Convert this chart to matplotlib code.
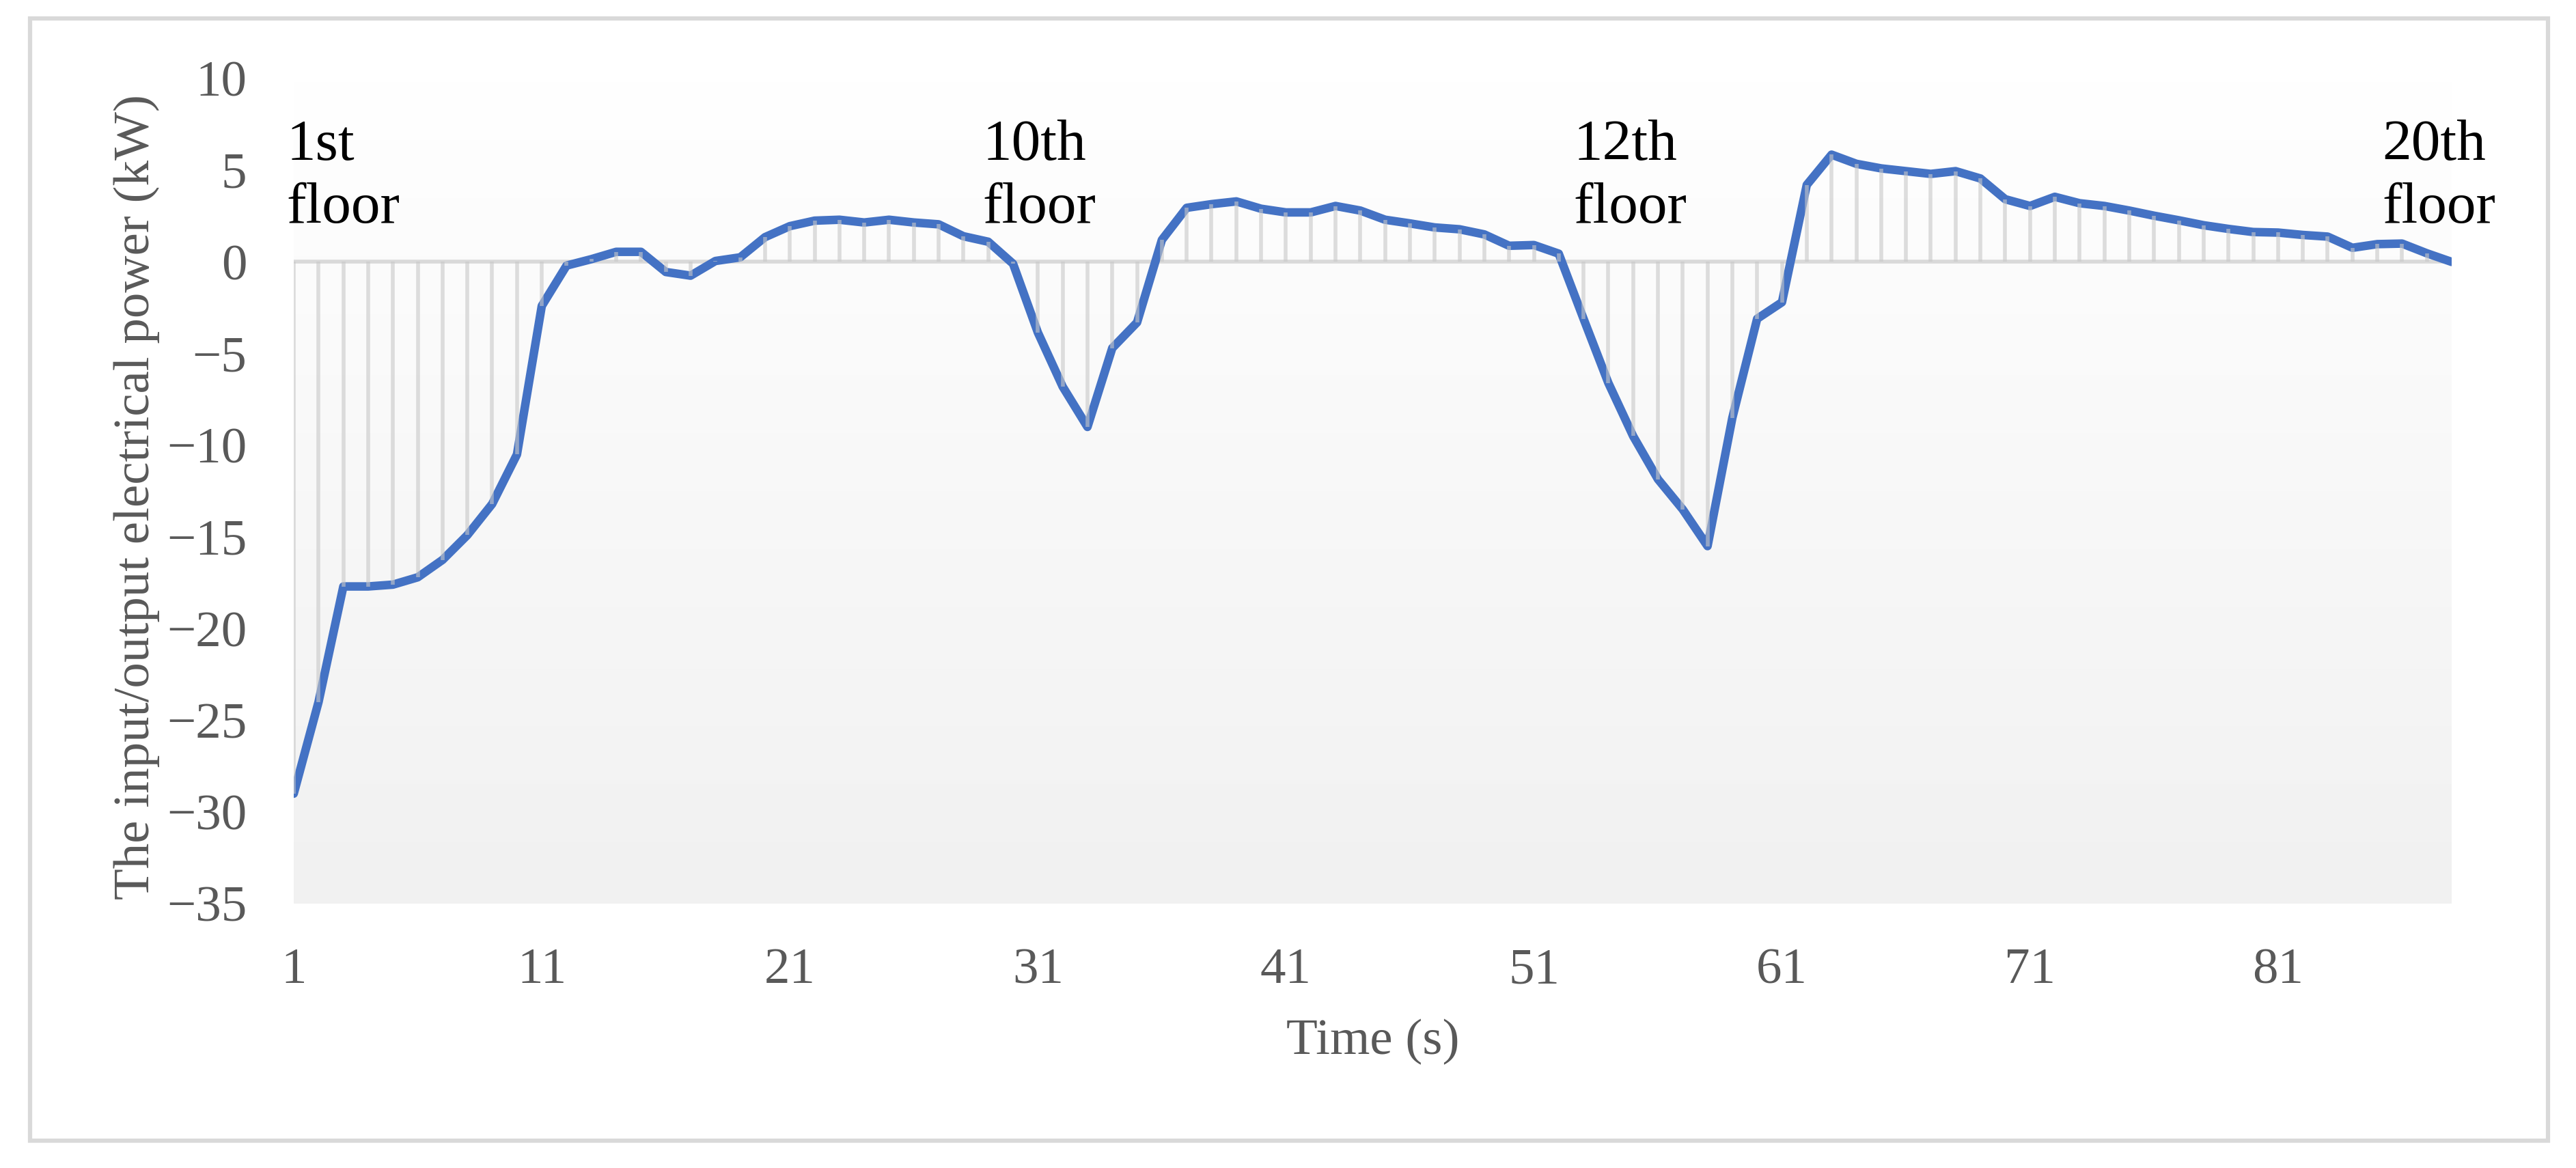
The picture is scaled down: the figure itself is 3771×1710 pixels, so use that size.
import numpy as np
import matplotlib

matplotlib.use("Agg")
import matplotlib.pyplot as plt  # noqa: E402
from matplotlib.colors import LinearSegmentedColormap  # noqa: E402
from matplotlib.patches import Rectangle  # noqa: E402

# ── data ──────────────────────────────────────────────────────────────
seconds = list(range(1, 89))
power_kw = [
    -29.0, -24.0, -17.7, -17.7, -17.6, -17.2, -16.25, -14.9, -13.2, -10.5,
    -2.4, -0.2, 0.15, 0.55, 0.55, -0.55, -0.75, 0.05, 0.25, 1.35,
    1.95, 2.25, 2.3, 2.15, 2.3, 2.15, 2.05, 1.4, 1.1, -0.1,
    -3.85, -6.8, -9.0, -4.7, -3.3, 1.2, 2.95, 3.15, 3.3, 2.9,
    2.7, 2.7, 3.05, 2.8, 2.3, 2.1, 1.88, 1.78, 1.5, 0.88,
    0.92, 0.45, -3.1, -6.6, -9.5, -11.85, -13.5, -15.5, -8.5, -3.1,
    -2.2, 4.2, 5.85, 5.35, 5.1, 4.95, 4.8, 4.95, 4.55, 3.42,
    3.05, 3.55, 3.2, 3.05, 2.8, 2.52, 2.27, 2.0, 1.8, 1.63,
    1.6, 1.47, 1.38, 0.77, 0.97, 1.0, 0.47, 0.0,
]
x_ticks = [1, 11, 21, 31, 41, 51, 61, 71, 81]
y_ticks = [-35, -30, -25, -20, -15, -10, -5, 0, 5, 10]
floor_labels = ["1st\nfloor", "10th\nfloor", "12th\nfloor", "20th\nfloor"]
floor_label_x = [0.72, 28.77, 52.6, 85.2]

SERIF = ["Liberation Serif", "DejaVu Serif"]
GREY_TEXT = "#595959"
LINE_BLUE = "#4472C4"

W, H, DPI = 3771, 1710, 300
fig = plt.figure(figsize=(W / DPI, H / DPI), dpi=DPI, facecolor="white")

# plot area placed in pixel units of the reference
left, right, top, bottom = 430, 3589, 115, 1323
ax = fig.add_axes([left / W, 1 - bottom / H, (right - left) / W, (bottom - top) / H])
ax.set_facecolor("none")

# Excel-like vertical gradient fill of the plot area
grad = LinearSegmentedColormap.from_list("plotfill", ["#ffffff", "#f1f1f1"])
ax.imshow(
    np.linspace(0, 1, 256).reshape(-1, 1),
    cmap=grad,
    extent=[seconds[0], seconds[-1], y_ticks[0], y_ticks[-1]],
    aspect="auto",
    origin="upper",
    zorder=0,
)

# category axis crossing at zero
ax.axhline(0, color="#d9d9d9", lw=1.35, zorder=1)
ax.plot(
    seconds,
    power_kw,
    color=LINE_BLUE,
    lw=3.0,
    solid_joinstyle="round",
    solid_capstyle="round",
    zorder=2,
)
# drop lines, drawn over the series like Excel does
ax.vlines(seconds, 0, power_kw, color="#c8c8c8", alpha=0.6, lw=1.35, zorder=3)

ax.set_xlim(seconds[0], seconds[-1])
ax.set_ylim(y_ticks[0], y_ticks[-1])
ax.set_xticks(x_ticks)
ax.set_yticks(y_ticks)
for spine in ax.spines.values():
    spine.set_visible(False)
ax.tick_params(axis="both", length=0, labelsize=18, labelcolor=GREY_TEXT)
ax.tick_params(axis="y", pad=16.5)
ax.tick_params(axis="x", pad=15.5)
for label in ax.get_xticklabels() + ax.get_yticklabels():
    label.set_family(SERIF)

for text, xpos in zip(floor_labels, floor_label_x):
    ax.text(
        xpos,
        7.75,
        text,
        ha="left",
        va="top",
        fontsize=20.5,
        family=SERIF,
        color="black",
        linespacing=1.25,
        zorder=5,
    )

fig.text(
    200 / W,
    1 - 728 / H,
    "The input/output electrical power (kW)",
    rotation=90,
    ha="center",
    va="center",
    fontsize=18,
    family=SERIF,
    color=GREY_TEXT,
)
fig.text(
    (left + right) / 2 / W,
    1 - 1525 / H,
    "Time (s)",
    ha="center",
    va="center",
    fontsize=18,
    family=SERIF,
    color=GREY_TEXT,
)

# outer chart frame
fig.patches.append(
    Rectangle(
        (44 / W, 1 - 1670 / H),
        (3730 - 44) / W,
        (1670 - 27) / H,
        transform=fig.transFigure,
        fill=False,
        edgecolor="#d9d9d9",
        lw=1.5,
    )
)

fig.savefig("out.png", dpi=DPI, facecolor="white")
plt.close(fig)
